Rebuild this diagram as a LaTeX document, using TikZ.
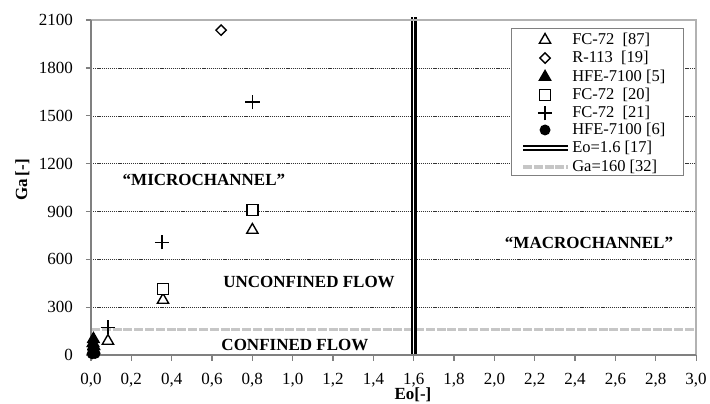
\documentclass[tikz,border=0pt]{standalone}
\usepackage{fontspec}
\setmainfont{Liberation Serif}
\usetikzlibrary{
    shapes,
    shapes.geometric,
    shapes.misc,
    positioning
}
\tikzset{
    eoline/.style = {draw=black, line width=2.2pt, double=white, double distance=1.4pt}
  }
\tikzset{
    galine/.style = {draw=gray!45, line width=3.2pt, dash pattern=on 9pt off 1.8pt}
  }
\tikzset{
    gridline/.style = {draw=black!80, line width=0.55pt, dash pattern=on 1.2pt off 0.9pt}
  }

\begin{document}
\begin{tikzpicture}[x=201.7pt,y=0.1595pt,font=\fontsize{17}{19}\selectfont,
    tri/.style={regular polygon,regular polygon sides=3,draw,fill=white,line width=1.4pt,inner sep=0pt,minimum size=13pt},
    ftri/.style={tri,fill=black},
    sqr/.style={rectangle,draw,fill=white,line width=1.4pt,inner sep=0pt,minimum size=11pt},
    dia/.style={diamond,draw,fill=white,line width=1.4pt,inner sep=0pt,minimum size=11pt},
    pls/.style={cross out,draw,line width=1.2pt,inner sep=0pt,minimum size=9pt,rotate=45},
    fdot/.style={circle,fill=black,inner sep=0pt,minimum size=11pt},
    region/.style={font=\fontsize{17}{19}\selectfont\bfseries},
    legtext/.style={anchor=west,inner sep=0pt,font=\fontsize{16.5}{18}\selectfont}]
				\useasboundingbox (-0.4512,-301) rectangle (3.0689,2226);
				\foreach \g in {300,600,...,1800}
					\draw[gridline] (0,\g) -- (3,\g);
				\draw[galine] (0,160) -- (3,160);
				\draw[eoline] (1.6,0) -- (1.6,2120);
				\draw[gray!60,line width=1.5pt] (0,2100) -- (3,2100) -- (3,0);
				\draw[gray,line width=1.5pt] (0,2100) -- (0,0) -- (3,0);
				\foreach \g in {0,300,...,2100} {
					\draw[gray,line width=1.2pt] (-0.025,\g) -- (0,\g);
					\node at (-0.089,\g) [anchor=east,inner sep=0pt] (ga\g) {\g};
				}
				\foreach \i in {0,...,15} {
					\pgfmathtruncatemacro\ea{\i/5}
					\pgfmathtruncatemacro\eb{mod(\i,5)*2}
					\draw[gray,line width=1.2pt] (\i*0.2,0) -- (\i*0.2,-38);
					\node at (\i*0.2,-157) (eo\i) {\ea,\eb};
				}
				\node at (-0.34,1097) [rotate=90,region] (galabel) {Ga\,[-]};
				\node at (1.596,-251) [region] (eolabel) {Eo[-]};
				\node at (0.56,1097) [region] (micro) {“MICROCHANNEL”};
				\node at (2.469,702) [region] (macro) {“MACROCHANNEL”};
				\node at (1.081,458) [region] (unconf) {UNCONFINED FLOW};
				\node at (1.011,63) [region] (conf) {CONFINED FLOW};
				\node at (0.084,88) [tri] (fc87a) {};
				\node at (0.357,345) [tri] (fc87b) {};
				\node at (0.8,784) [tri] (fc87c) {};
				\node at (0.645,2037) [dia] (r113) {};
				\node at (0.357,414) [sqr] (fc20a) {};
				\node at (0.8,909) [sqr] (fc20b) {};
				\node at (0.084,175) [pls] (fc21a) {};
				\node at (0.352,708) [pls] (fc21b) {};
				\node at (0.8,1586) [pls] (fc21c) {};
				\node at (0.012,100) [ftri] (hfe5a) {};
				\node at (0.01,75) [ftri] (hfe5b) {};
				\node at (0.015,55) [ftri] (hfe5c) {};
				\node at (0.008,35) [fdot] (hfe6a) {};
				\node at (0.014,20) [fdot] (hfe6b) {};
				\node at (0.006,8) [fdot] (hfe6c) {};
				\node at (0.02,10) [fdot] (hfe6d) {};
				\node at (2.509,1589) [draw=gray,line width=1pt,fill=white,minimum width=172pt,minimum height=147pt] (legend) {};
				\node at (2.251,1975) [tri] (lg1) {};
				\node at (2.385,1975) [legtext] {FC-72\ \ [87]};
				\node at (2.251,1862) [dia] (lg2) {};
				\node at (2.385,1862) [legtext] {R-113\ \ [19]};
				\node at (2.251,1743) [ftri] (lg3) {};
				\node at (2.385,1743) [legtext] {HFE-7100 [5]};
				\node at (2.251,1630) [sqr] (lg4) {};
				\node at (2.385,1630) [legtext] {FC-72\ \ [20]};
				\node at (2.251,1517) [pls] (lg5) {};
				\node at (2.385,1517) [legtext] {FC-72\ \ [21]};
				\node at (2.251,1411) [fdot] (lg6) {};
				\node at (2.385,1411) [legtext] {HFE-7100 [6]};
				\draw[eoline] (2.142,1298) -- (2.365,1298);
				\node at (2.385,1298) [legtext] {Eo=1.6 [17]};
				\draw[galine] (2.142,1179) -- (2.365,1179);
				\node at (2.385,1179) [legtext] {Ga=160 [32]};
			\end{tikzpicture}
\end{document}
